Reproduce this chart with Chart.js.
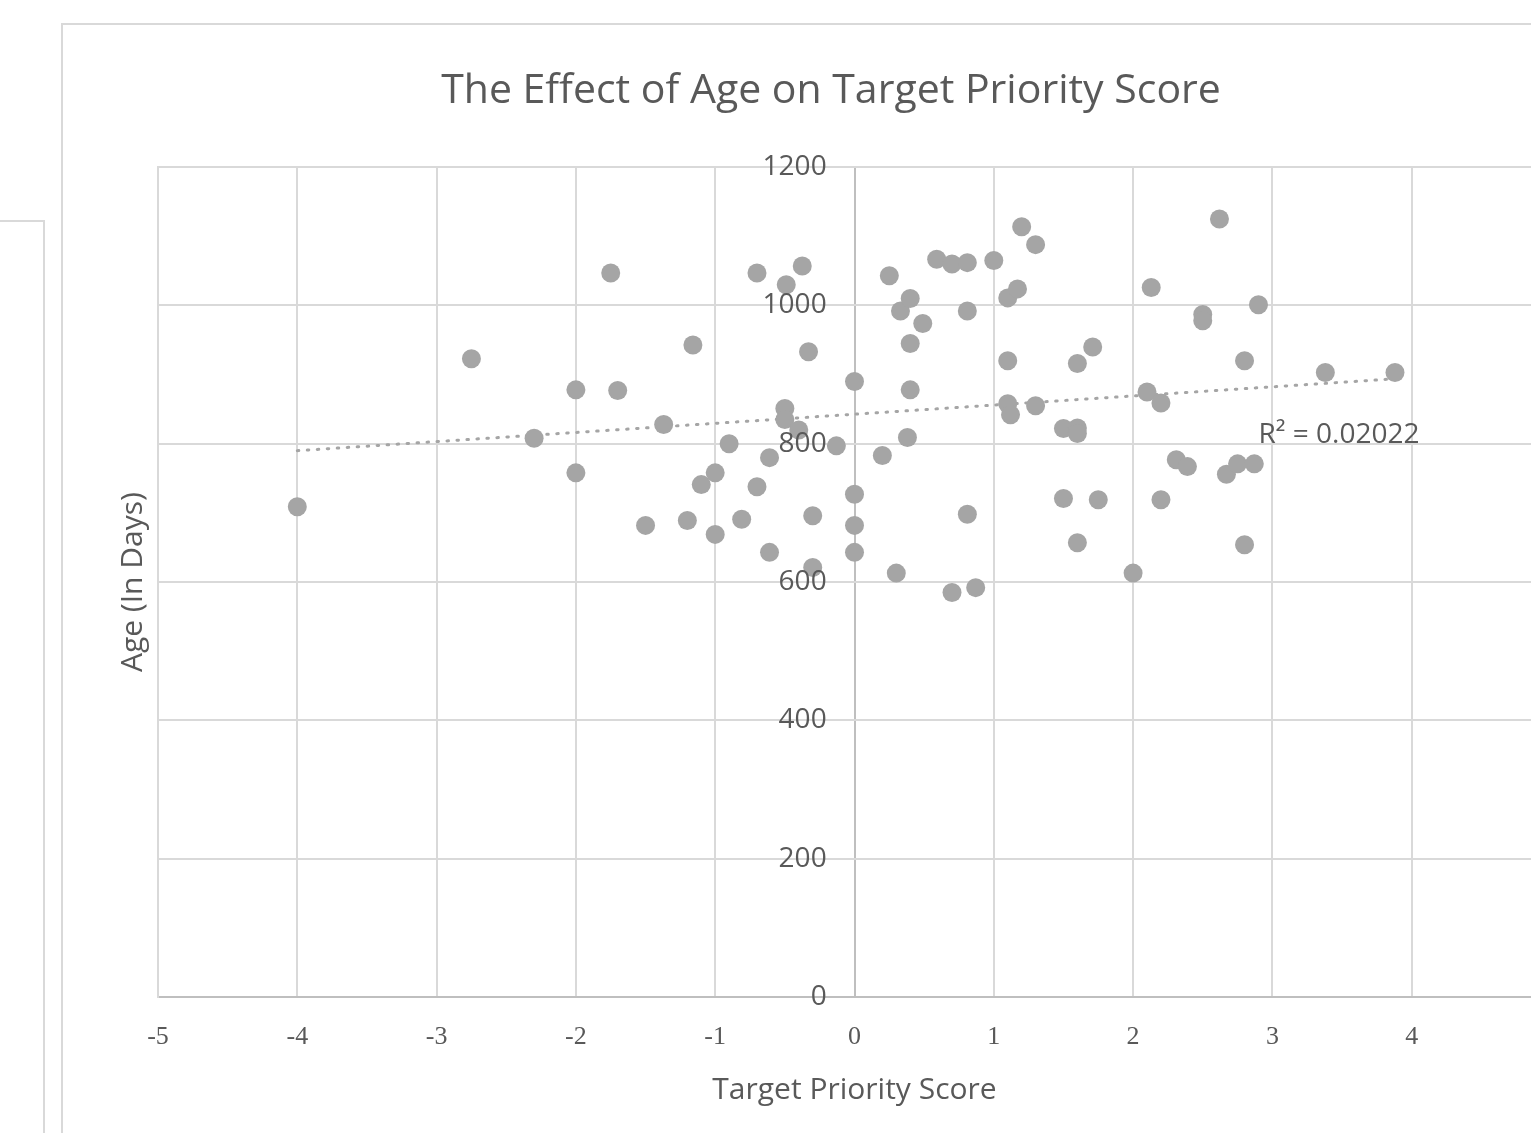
<!DOCTYPE html>
<html><head><meta charset="utf-8">
<script src="https://cdn.jsdelivr.net/npm/chart.js@4.4.1/dist/chart.umd.min.js"></script>
<style>
html,body{margin:0;padding:0;background:#fff;overflow:hidden;width:1531px;height:1133px;}
#side{position:absolute;left:-10px;top:220px;width:55px;height:1000px;border:2px solid #d9d9d9;box-sizing:border-box;}
#frame{position:absolute;left:61px;top:23px;width:1600px;height:1200px;border:2px solid #d9d9d9;box-sizing:border-box;}
#c{position:absolute;left:61px;top:24px;}
</style></head><body>
<div id="side"></div><div id="frame"></div>
<canvas id="c" width="1540" height="1140"></canvas>
<script>
const chartTitle = 'The Effect of Age on Target Priority Score';
const xTitle = 'Target Priority Score';
const yTitle = 'Age (In Days)';
const scoreX = [-4, -2.75, -2.3, -2, -2, -1.75, -1.7, -1.5, -1.37, -1.2, -1.16, -1.1, -1, -1, -0.9, -0.81, -0.7, -0.7, -0.61, -0.61,
  -0.49, -0.5, -0.5, -0.4, -0.375, -0.33, -0.3, -0.3, -0.13, 0, 0, 0, 0, 0.2, 0.25, 0.3, 0.33, 0.38, 0.4, 0.4,
  0.4, 0.49, 0.59, 0.7, 0.7, 0.81, 0.81, 0.81, 0.87, 1.0, 1.1, 1.17, 1.1, 1.1, 1.12, 1.2, 1.3, 1.3, 1.5, 1.5,
  1.6, 1.6, 1.6, 1.6, 1.71, 1.75, 2.0, 2.1, 2.13, 2.2, 2.2, 2.31, 2.39, 2.5, 2.5, 2.62, 2.67, 2.75, 2.8, 2.8,
  2.87, 2.9, 3.38, 3.88];
const ageY = [709, 923, 808, 878, 758, 1047, 877, 682, 828, 689, 943, 741, 669, 758, 800, 691, 738, 1047, 643, 780,
  1030, 851, 835, 820, 1057, 933, 696, 621, 797, 890, 727, 682, 643, 783, 1043, 613, 992, 809, 1010, 945,
  878, 974, 1067, 1060, 585, 1062, 992, 698, 592, 1065, 1011, 1024, 920, 858, 842, 1114, 1088, 855, 822, 721,
  916, 823, 815, 657, 940, 719, 613, 875, 1026, 859, 719, 777, 767, 987, 978, 1125, 756, 771, 920, 654,
  771, 1001, 903, 903];
const trendX = [-4, 3.88];
const trendY = [790, 894];
const xTickValues = [-5, -4, -3, -2, -1, 0, 1, 2, 3, 4, 5];
const yTickValues = [0, 200, 400, 600, 800, 1000, 1200];
const rSquaredText = 'R² = 0.02022';
const rLabelPos = [2.9, 812];

const GRID = '#d9d9d9', AXIS = '#bfbfbf', TEXT = '#595959', MARK = '#a5a5a5';
const SANS = '"Open Sans", "Noto Sans", sans-serif';

const rLabelPlugin = {
  id: 'rLabel',
  afterDatasetsDraw(chart) {
    const {ctx, scales} = chart;
    ctx.save();
    ctx.font = '28px ' + SANS;
    ctx.fillStyle = TEXT;
    ctx.textAlign = 'left';
    ctx.textBaseline = 'middle';
    ctx.fillText(rSquaredText, scales.x.getPixelForValue(rLabelPos[0]), scales.y.getPixelForValue(rLabelPos[1]));
    ctx.restore();
  }
};

new Chart(document.getElementById('c'), {
  type: 'scatter',
  data: {
    datasets: [
      {
        label: 'Age',
        data: scoreX.map((x, i) => ({x: x, y: ageY[i]})),
        backgroundColor: MARK, borderWidth: 0, pointRadius: 9.5, pointHoverRadius: 9.5, order: 1
      },
      {
        label: 'Trend',
        type: 'line',
        data: trendX.map((x, i) => ({x: x, y: trendY[i]})),
        borderColor: MARK, borderWidth: 3, borderDash: [1.5, 8.5], borderCapStyle: 'round',
        pointRadius: 0, fill: false, order: 2
      }
    ]
  },
  options: {
    responsive: false, animation: false, devicePixelRatio: 1,
    layout: {padding: {left: 50, right: 50, top: 0, bottom: 0}},
    plugins: {
      legend: {display: false}, tooltip: {enabled: false},
      title: {display: true, text: chartTitle, color: TEXT, font: {family: SANS, size: 41, weight: 'normal'}, padding: {top: 43, bottom: 51}}
    },
    scales: {
      x: {
        type: 'linear', min: -5, max: 5,
        afterBuildTicks: s => { s.ticks = xTickValues.map(v => ({value: v})); },
        ticks: {color: TEXT, font: {family: '"Liberation Serif", serif', size: 26}, padding: 25},
        grid: {color: c => (c.tick && c.tick.value === 0) ? AXIS : GRID, lineWidth: 2, drawTicks: false},
        border: {color: AXIS, width: 2},
        title: {display: true, text: xTitle, color: TEXT, font: {family: SANS, size: 30}, padding: {top: 0, bottom: 56}},
        afterFit: s => { s.height = 167; }
      },
      y: {
        type: 'linear', position: 'left', min: 0, max: 1200,
        afterBuildTicks: s => { s.ticks = yTickValues.map(v => ({value: v})); },
        ticks: {display: false},
        grid: {color: GRID, lineWidth: 2, drawTicks: false},
        border: {color: GRID, width: 2},
        title: {display: true, text: yTitle, color: TEXT, font: {family: SANS, size: 30}, padding: {top: 4, bottom: 0}},
        afterFit: s => { s.width = 47; }
      },
      y2: {
        type: 'linear', position: {x: -0.2}, min: 0, max: 1200,
        afterBuildTicks: s => { s.ticks = yTickValues.map(v => ({value: v})); },
        ticks: {color: TEXT, font: {family: SANS, size: 28}, z: 1, callback: v => String(v)},
        grid: {display: false, drawTicks: false},
        border: {display: false}
      }
    }
  },
  plugins: [rLabelPlugin]
});
</script>
</body></html>
